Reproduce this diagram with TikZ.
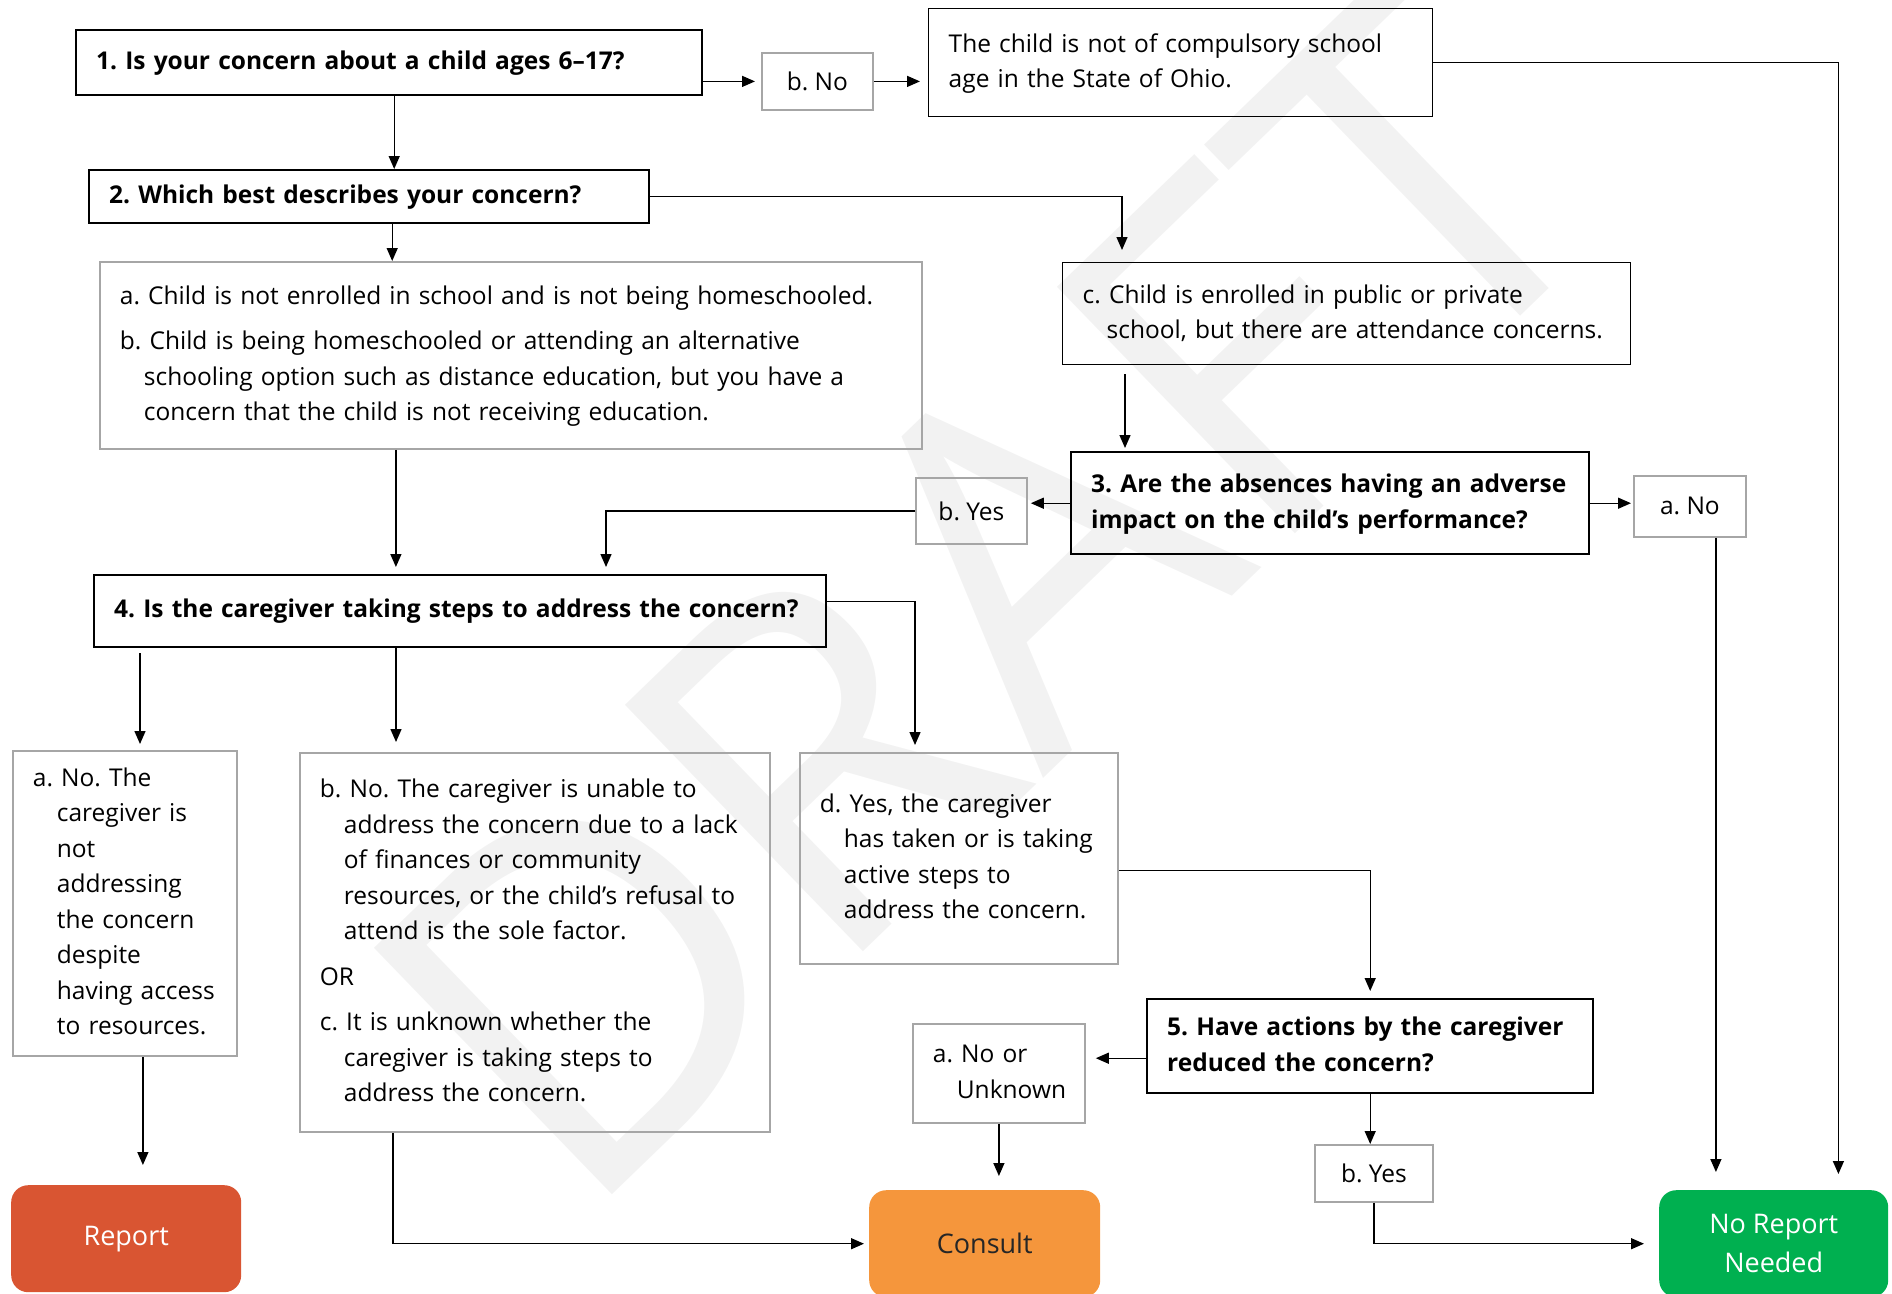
\documentclass[tikz,border=0pt]{standalone}
\usepackage{fontspec}
\setmainfont{Open Sans}
\usepackage{tikz}
\usetikzlibrary{arrows.meta,positioning}
\definecolor{reportred}{HTML}{D95532}
\definecolor{consultorange}{HTML}{F5963C}
\definecolor{noreportgreen}{HTML}{00B050}
\definecolor{optgray}{HTML}{A6A6A6}
\newcommand{\cont}{\hspace*{24pt}}
\newcommand{\boxlines}[1]{\begin{tabular}{@{}l@{}}#1\end{tabular}}
\frenchspacing

\begin{document}
\begin{tikzpicture}[
  x=1pt,y=-1pt,
  box/.style={draw,anchor=north west,inner xsep=20pt,inner ysep=0pt,align=left,font=\fontsize{24.5}{35.5}\selectfont},
  qbox/.style={box,line width=2.4pt,font=\bfseries\fontsize{24.5}{35.5}\selectfont},
  tbox/.style={box,line width=1.4pt},
  obox/.style={box,draw=optgray,line width=1.8pt},
  lbl/.style={draw=optgray,line width=1.8pt,anchor=north west,inner sep=0pt,font=\fontsize{24.5}{35.5}\selectfont},
  term/.style={rounded corners=17pt,anchor=north west,inner sep=0pt,align=center,font=\fontsize{27}{39}\selectfont},
  arr/.style={-{Triangle[length=13pt,width=11pt]},line width=1.4pt}
]
\useasboundingbox (0,0) rectangle (1892,1293);
\node[rotate=44,text=black!5,inner sep=0pt,font=\fontsize{480}{480}\selectfont] (wm) at (985,595) {DRAFT};

\node[qbox,text width=586pt,minimum height=65pt] (q1) at (75,29) {1. Is your concern about a child ages 6--17?};
\node[lbl,minimum width=111pt,minimum height=57pt] (bno) at (761,52) {b. No};
\node[tbox,text width=464pt,minimum height=108pt] (nc) at (928,8) {\boxlines{The child is not of compulsory school\\age in the State of Ohio.}};
\node[qbox,text width=520pt,minimum height=53pt] (q2) at (88,169) {2. Which best describes your concern?};
\node[obox,text width=782pt,minimum height=187pt] (ab) at (99,261) {\boxlines{a. Child is not enrolled in school and is not being homeschooled.\\[10pt]
  b. Child is being homeschooled or attending an alternative\\
  \cont schooling option such as distance education, but you have a\\
  \cont concern that the child is not receiving education.}};
\node[tbox,text width=528pt,minimum height=102pt] (c2) at (1062,262) {\boxlines{c. Child is enrolled in public or private\\ \cont school, but there are attendance concerns.}};
\node[qbox,text width=478pt,minimum height=102pt] (q3) at (1070,451) {\boxlines{3. Are the absences having an adverse\\impact on the child's performance?}};
\node[lbl,minimum width=111pt,minimum height=66pt] (by) at (915,477) {b. Yes};
\node[lbl,minimum width=112pt,minimum height=61pt] (an) at (1633,475) {a. No};
\node[qbox,text width=692pt,minimum height=72pt] (q4) at (93,574) {4. Is the caregiver taking steps to address the concern?};
\node[obox,text width=184pt,minimum height=305pt] (a4) at (12,750) {\boxlines{a. No. The\\ \cont caregiver is\\ \cont not\\ \cont addressing\\ \cont the concern\\ \cont despite\\ \cont having access\\ \cont to resources.}};
\node[obox,text width=430pt,minimum height=379pt] (bc) at (299,752) {\boxlines{b. No. The caregiver is unable to\\
  \cont address the concern due to a lack\\
  \cont of finances or community\\
  \cont resources, or the child's refusal to\\
  \cont attend is the sole factor.\\[10pt]
  OR\\[10pt]
  c. It is unknown whether the\\
  \cont caregiver is taking steps to\\
  \cont address the concern.}};
\node[obox,text width=278pt,minimum height=211pt] (d4) at (799,752) {\boxlines{d. Yes, the caregiver\\ \cont has taken or is taking\\ \cont active steps to\\ \cont address the concern.}};
\node[qbox,text width=406pt,minimum height=94pt] (q5) at (1146,998) {\boxlines{5. Have actions by the caregiver\\reduced the concern?}};
\node[obox,text width=132pt,minimum height=99pt] (anu) at (912,1023) {\boxlines{a. No or\\ \cont Unknown}};
\node[lbl,minimum width=118pt,minimum height=57pt] (by5) at (1314,1144) {b. Yes};
\node[term,fill=reportred,text=white,minimum width=230pt,minimum height=107pt] (rep) at (11,1185) {Report};
\node[term,fill=consultorange,text=black!85,minimum width=231pt,minimum height=107pt] (con) at (869,1190) {Consult};
\node[term,fill=noreportgreen,text=white,minimum width=229pt,minimum height=107pt] (nr) at (1659,1190) {No Report\\Needed};

\draw[arr,shorten >=6pt] (q1.east |- bno.west) -- (bno.west);
\draw[arr,shorten >=8pt] (bno.east) -- (bno.east -| nc.west);
\draw[arr,shorten >=16pt] (nc.east) -| ([xshift=-50pt]nr.north east);
\draw[arr] ([xshift=5pt]q1.south) -- ([xshift=5pt]q1.south |- q2.north);
\draw[arr,shorten >=12pt] (q2.east) -| ([xshift=60pt]c2.north west);
\draw[arr] ([xshift=23pt]q2.south) -- ([xshift=23pt]q2.south |- ab.north);
\draw[arr,shorten >=7pt] ([xshift=-115pt]ab.south) -- ([xshift=-115pt]ab.south |- q4.north);
\draw[arr,shorten <=9pt,shorten >=3pt] ([xshift=63pt]c2.south west) -- ([xshift=63pt]c2.south west |- q3.north);
\draw[arr,shorten >=3pt] (q3.west) -- (q3.west -| by.east);
\draw[arr,shorten >=2pt] (q3.east) -- (q3.east -| an.west);
\draw[arr,shorten >=7pt] (by.west) -| ([xshift=513pt]q4.north west);
\draw[arr,shorten >=18pt] ([xshift=26pt]an.south) -- ([xshift=26pt]an.south |- nr.north);
\draw[arr,shorten <=5pt,shorten >=6pt] ([xshift=47pt]q4.south west) -- ([xshift=47pt]q4.south west |- a4.north);
\draw[arr,shorten >=10pt] ([xshift=303pt]q4.south west) -- ([xshift=303pt]q4.south west |- bc.north);
\draw[arr,shorten >=7pt] ([yshift=10pt]q4.east) -| ([xshift=116pt]d4.north west);
\draw[arr,shorten >=20pt] ([xshift=18pt]a4.south) -- ([xshift=18pt]a4.south |- rep.north);
\draw[arr,shorten >=5pt] ([xshift=94pt]bc.south west) |- (con.west);
\draw[arr,shorten >=7pt] ([yshift=-12pt]d4.east) -| (q5.north);
\draw[arr,shorten >=10pt] ([yshift=-12pt]q5.west) -- ([yshift=-12pt]q5.west -| anu.east);
\draw[arr,shorten >=14pt] (anu.south) -- (anu.south |- con.north);
\draw[arr] (q5.south) -- (q5.south |- by5.north);
\draw[arr,shorten >=15pt] (by5.south) |- (nr.west);
\end{tikzpicture}
\end{document}
